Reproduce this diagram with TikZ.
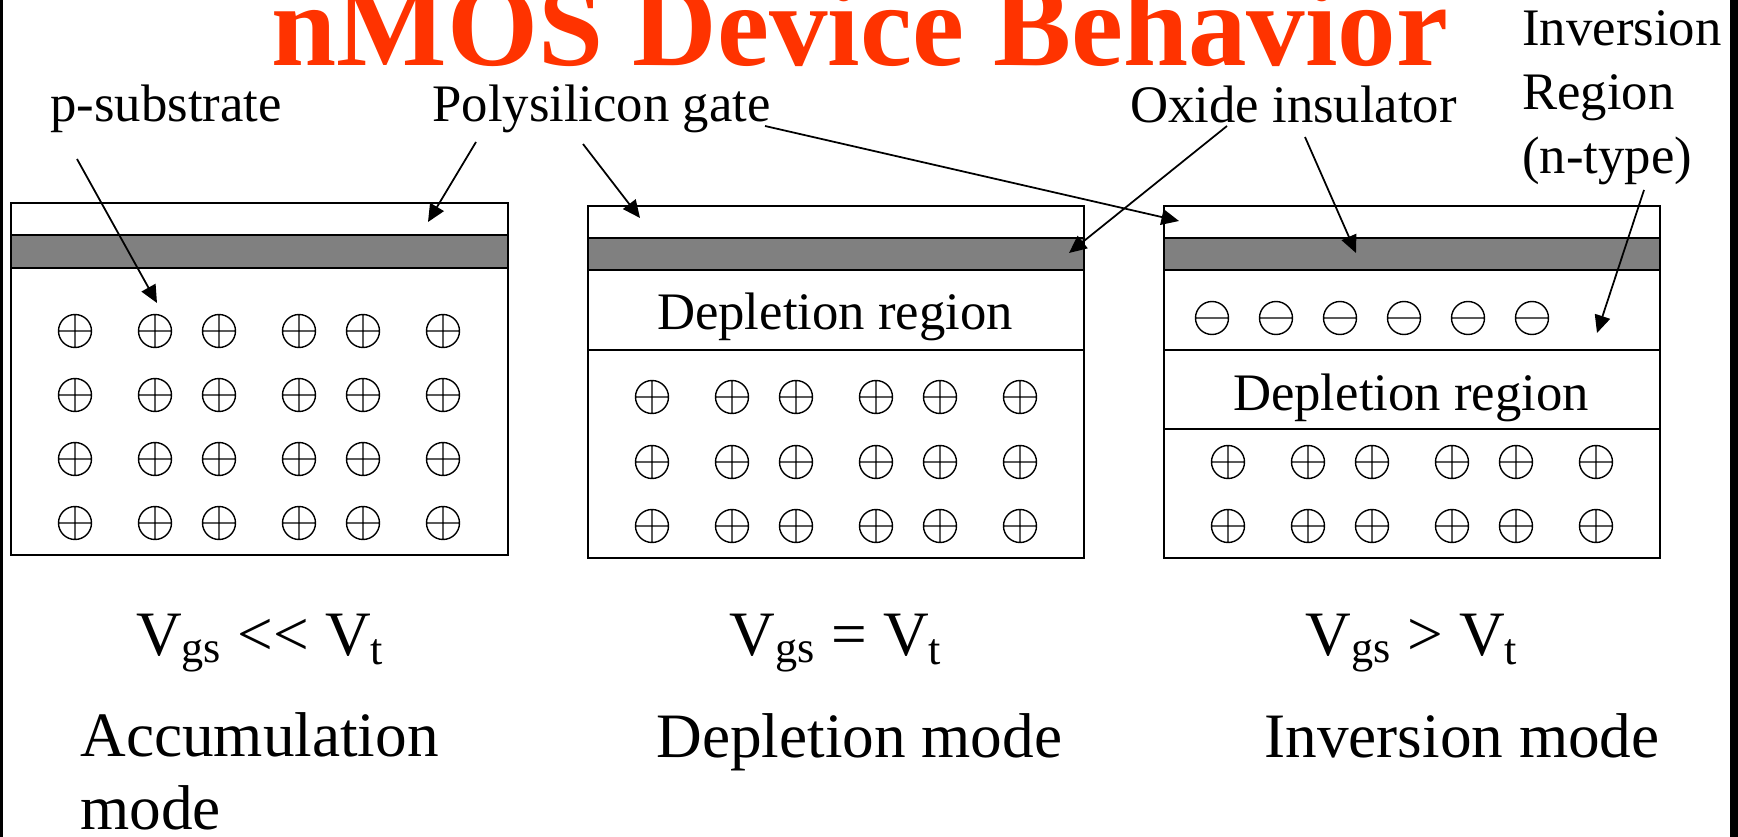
\documentclass[tikz,border=0pt]{standalone}
\usepackage{fontspec}
\setmainfont{Liberation Serif}
\usetikzlibrary{arrows.meta}
\definecolor{titlered}{RGB}{255,51,0}
\definecolor{oxide}{RGB}{128,128,128}

\begin{document}
\begin{tikzpicture}[x=0.2mm,y=-0.2mm,
  lbl/.style={font=\fontsize{30}{36.5}\selectfont,inner sep=0pt},
  big/.style={font=\fontsize{36}{41}\selectfont,inner sep=0pt},
  pointer/.style={-{Triangle[length=10pt,width=9pt]},line width=1pt},
  charge/.style={line width=0.8pt}]
\useasboundingbox (0,0) rectangle (1738,837);
\fill (0,0) rectangle (3,837);
\fill (1730,0) rectangle (1738,837);
\node[font=\bfseries\fontsize{66.6}{70}\selectfont,text=titlered,anchor=base,inner sep=0pt] (title) at (860,66) {nMOS Device Behavior};
\draw[line width=1.2pt] (11,203) rectangle (508,555);
\draw[line width=1.2pt,fill=oxide] (11,235) rectangle (508,268);
\foreach \bx in {588,1164}{
  \draw[line width=1.6pt] (\bx,206) rectangle (\bx+496,558);
  \draw[line width=1.6pt,fill=oxide] (\bx,238) rectangle (\bx+496,270);
  \draw[line width=1.6pt] (\bx,350) -- (\bx+496,350);}
\draw[line width=1.6pt] (1164,429) -- (1660,429);
\foreach \bx/\rows in {11/{331,395,459,523}, 588/{397,462,526}, 1164/{462,526}}
  \foreach \y in \rows
    \foreach \dx in {64,144,208,288,352,432}
      \draw[charge] (\bx+\dx,\y) circle (3.3mm) +(-3.3mm,0) -- +(3.3mm,0) +(0,-3.3mm) -- +(0,3.3mm);
\foreach \x in {1212,1276,1340,1404,1468,1532}
  \draw[charge] (\x,318) circle (3.3mm) +(-3.3mm,0) -- +(3.3mm,0);
\node[lbl,anchor=base west] (psub) at (50,122) {p-substrate};
\node[lbl,anchor=base west] (poly) at (432,122) {Polysilicon gate};
\node[lbl,anchor=base west] (oxlbl) at (1130,123) {Oxide insulator};
\node[lbl,align=left,anchor=base west] (invlbl) at (1522,174) {Inversion\\Region\\(n-type)};
\node[lbl,anchor=base] (dep2) at (835,330) {Depletion region};
\node[lbl,anchor=base] (dep3) at (1411,410) {Depletion region};
\node[big,anchor=base] (vacc) at (260,655) {V\textsubscript{gs} {<}{<} V\textsubscript{t}};
\node[big,anchor=base] (vdep) at (836,655) {V\textsubscript{gs} = V\textsubscript{t}};
\node[big,anchor=base] (vinv) at (1412,655) {V\textsubscript{gs} {>} V\textsubscript{t}};
\node[big,align=left,anchor=base west] (accm) at (80,829) {Accumulation\\mode};
\node[big,anchor=base west] (depm) at (656,757) {Depletion mode};
\node[big,anchor=base west] (invm) at (1264,757) {Inversion mode};
\coordinate (ps0) at (77,159);    \coordinate (ps1) at (157,303);
\coordinate (pg0) at (476,142);   \coordinate (pg1) at (428,222);
\coordinate (pg2) at (583,144);   \coordinate (pg3) at (640,218);
\coordinate (pg4) at (765,126);   \coordinate (pg5) at (1179,221);
\coordinate (ox0) at (1227,126);  \coordinate (ox1) at (1069,253);
\coordinate (ox2) at (1305,137);  \coordinate (ox3) at (1356,253);
\coordinate (iv0) at (1644,190);  \coordinate (iv1) at (1597,333);
\draw[pointer] (ps0) -- (ps1);
\draw[pointer] (pg0) -- (pg1);
\draw[pointer] (pg2) -- (pg3);
\draw[pointer] (pg4) -- (pg5);
\draw[pointer] (ox0) -- (ox1);
\draw[pointer] (ox2) -- (ox3);
\draw[pointer] (iv0) -- (iv1);
\end{tikzpicture}
\end{document}
